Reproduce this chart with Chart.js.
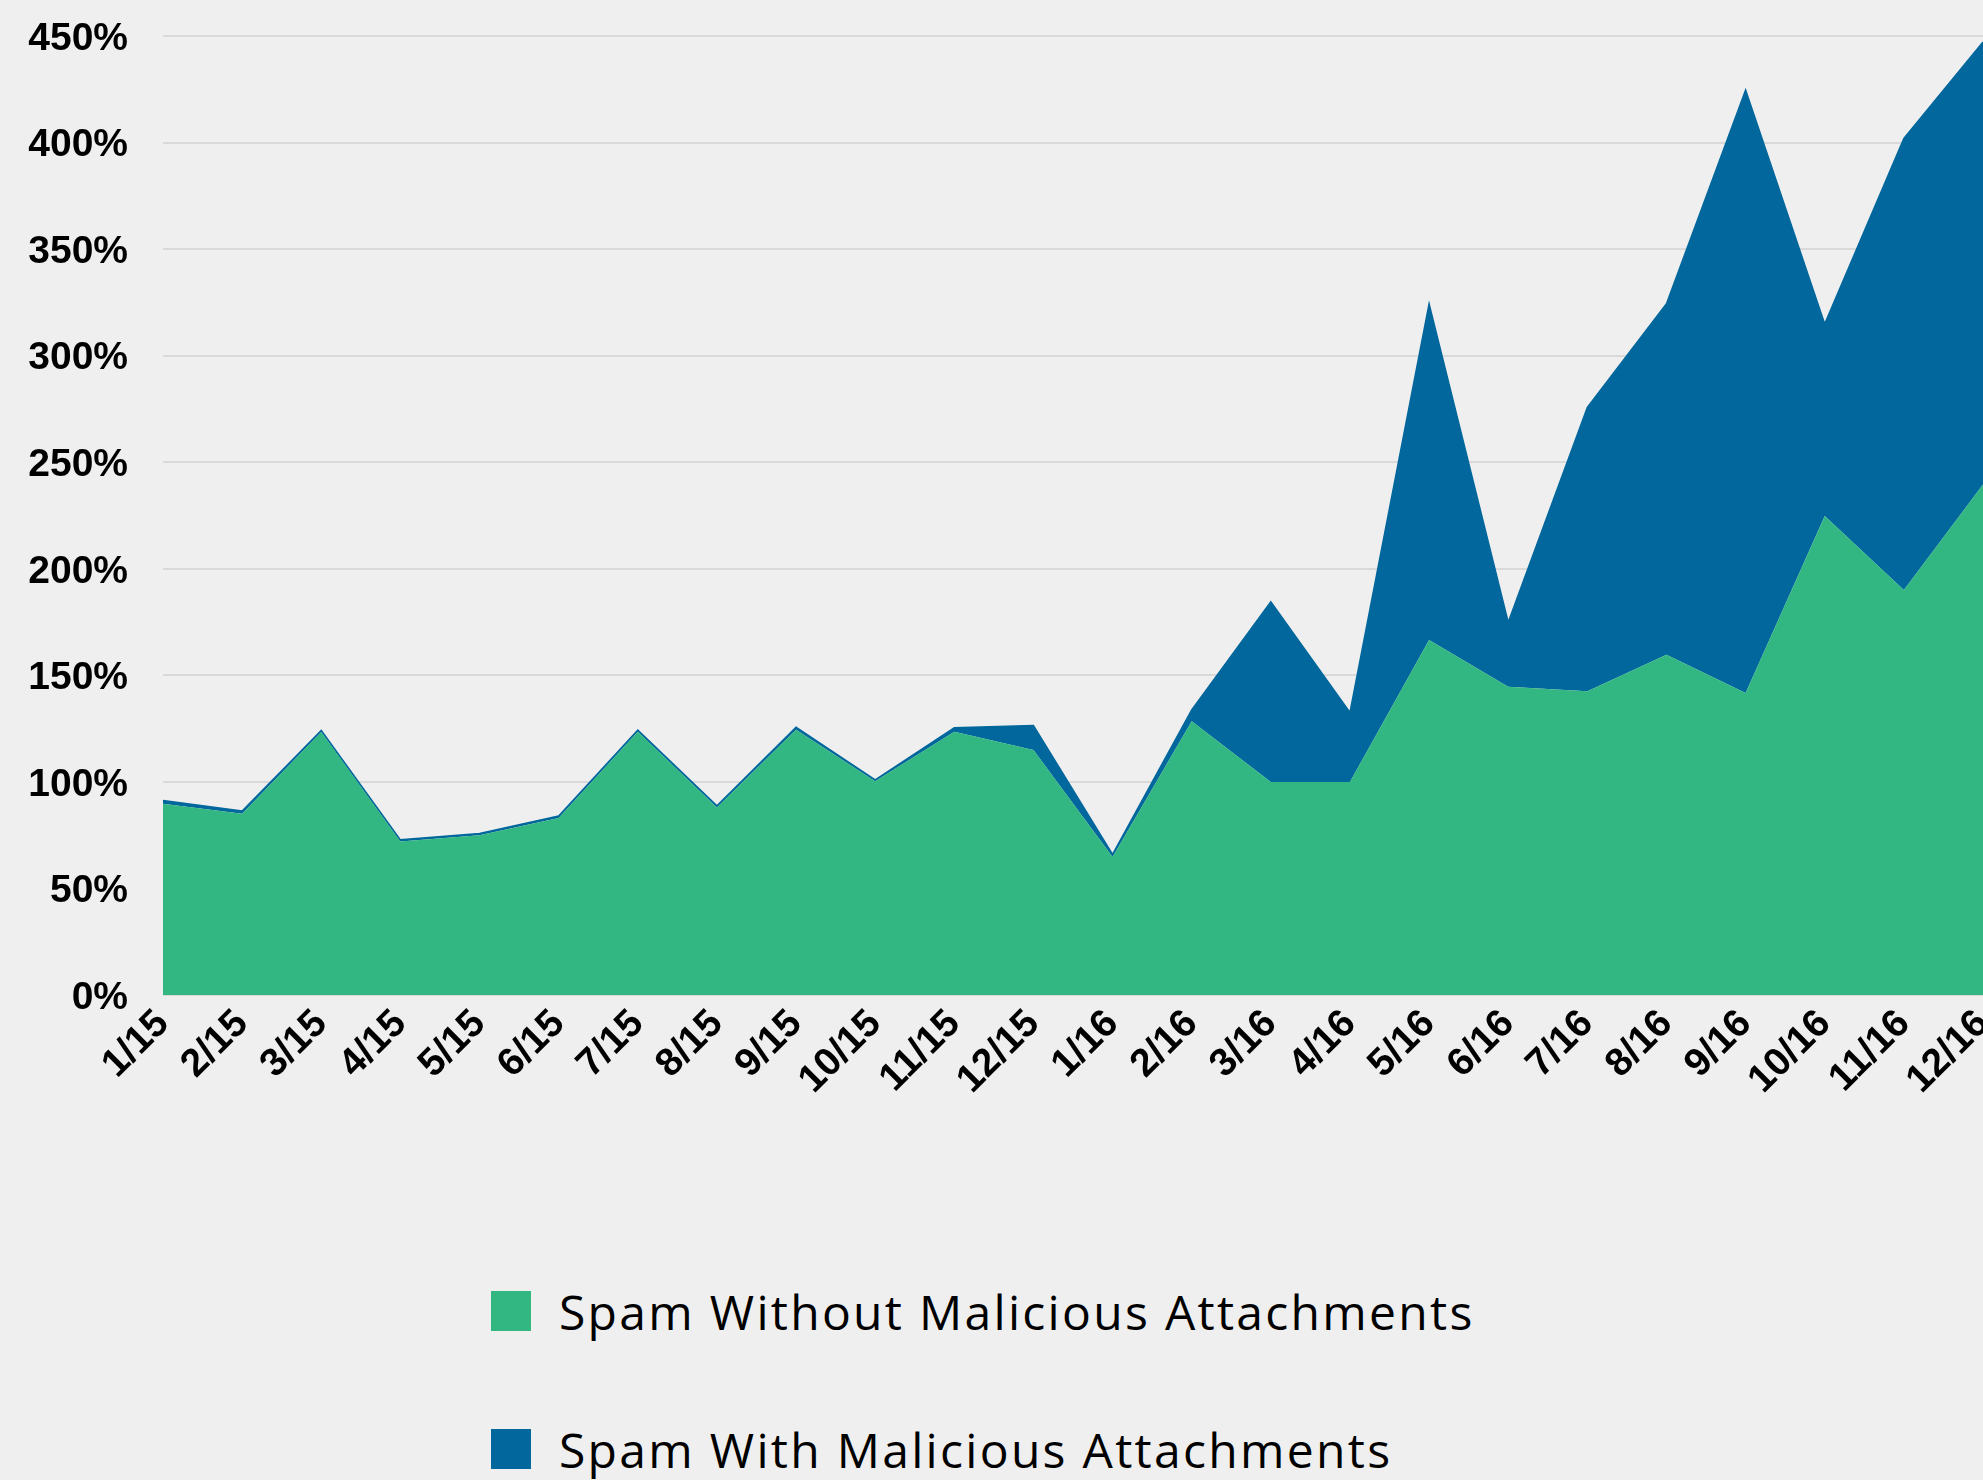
<!DOCTYPE html>
<html>
<head>
<meta charset="utf-8">
<script src="https://cdn.jsdelivr.net/npm/chart.js@4.4.1/dist/chart.umd.min.js"></script>
<style>
    html, body { margin: 0; padding: 0; background: #efefef; overflow: hidden; }
    #wrap { position: relative; width: 1983px; height: 1480px; background: #efefef; }
    #chartBox { position: absolute; left: 0; top: 0; width: 1983px; height: 1200px; }
    .legend-item { position: absolute; left: 491px; height: 40px; display: flex; align-items: center;
                   font-family: 'Open Sans', Lato, sans-serif; font-size: 48px; letter-spacing: 2.3px;
                   color: #000; white-space: nowrap; }
    .legend-swatch { width: 40px; height: 40px; margin-right: 28px; flex: none; }
</style>
</head>
<body>
<div id="wrap">
    <div id="chartBox"><canvas id="spamChart"></canvas></div>
    <div id="legend"></div>
</div>
<script>
// ─── Data ───────────────────────────────────────────────────
const months = ['1/15', '2/15', '3/15', '4/15', '5/15', '6/15', '7/15', '8/15', '9/15', '10/15', '11/15', '12/15',
                '1/16', '2/16', '3/16', '4/16', '5/16', '6/16', '7/16', '8/16', '9/16', '10/16', '11/16', '12/16'];

const seriesNames = ['Spam Without Malicious Attachments', 'Spam With Malicious Attachments'];

const withoutMalicious = [89.7, 85.0, 123.4, 72.0, 75.0, 83.0, 123.5, 88.0, 124.5, 100.3, 123.5, 115.0,
                          64.8, 128.5, 100.0, 100.0, 166.6, 144.7, 142.5, 159.6, 141.7, 224.8, 190.1, 239.5];

const withMalicious = [1.6, 1.3, 0.8, 0.8, 0.8, 1.0, 0.8, 0.8, 1.2, 0.7, 1.9, 11.5,
                       1.2, 5.3, 84.5, 32.6, 157.8, 30.2, 133.2, 164.8, 283.0, 90.1, 211.9, 207.7];

const yTicks = [0, 50, 100, 150, 200, 250, 300, 350, 400, 450];

const GREEN = '#33b782';
const BLUE = '#02679c';
const GRID = '#d9d9d9';
const TICK_FONT = { family: "'Liberation Sans', Arial, sans-serif", size: 39, weight: 'bold' };

// ─── Chart ──────────────────────────────────────────────────
Chart.defaults.animation = false;

new Chart(document.getElementById('spamChart'), {
    type: 'line',
    data: {
        labels: months,
        datasets: [
            {
                label: seriesNames[0], data: withoutMalicious,
                backgroundColor: GREEN, borderColor: GREEN, borderWidth: 0,
                fill: 'origin', pointRadius: 0, tension: 0
            },
            {
                label: seriesNames[1], data: withMalicious,
                backgroundColor: BLUE, borderColor: BLUE, borderWidth: 1.5,
                fill: '-1', pointRadius: 0, tension: 0
            }
        ]
    },
    options: {
        responsive: true, maintainAspectRatio: false,
        layout: { padding: { top: 36, left: 0, right: 0, bottom: 0 } },
        plugins: { legend: { display: false }, tooltip: { enabled: false } },
        scales: {
            x: {
                grid: { display: false, drawTicks: false },
                border: { display: false },
                ticks: { color: '#000', font: TICK_FONT, minRotation: 45, maxRotation: 45, autoSkip: false, padding: 6 },
                afterFit: (axis) => { axis.height = 205; axis.paddingLeft = 0; axis.paddingRight = 0; }
            },
            y: {
                stacked: true, min: 0, max: 450,
                afterBuildTicks: (axis) => { axis.ticks = yTicks.map(v => ({ value: v })); },
                grid: { color: GRID, lineWidth: 2, drawTicks: false },
                border: { display: false },
                ticks: { color: '#000', font: TICK_FONT, padding: 35, labelOffset: 3, callback: v => v + '%' },
                afterFit: (axis) => { axis.width = 163; axis.paddingTop = 0; axis.paddingBottom = 0; }
            }
        }
    }
});

// ─── Legend (stacked vertically under the plot) ─────────────
const legend = document.getElementById('legend');
[GREEN, BLUE].forEach((col, i) => {
    const item = document.createElement('div');
    item.className = 'legend-item';
    item.style.top = (1291 + i * 138) + 'px';
    item.innerHTML = `<span class="legend-swatch" style="background:${col}"></span><span>${seriesNames[i]}</span>`;
    legend.appendChild(item);
});
</script>
</body>
</html>
